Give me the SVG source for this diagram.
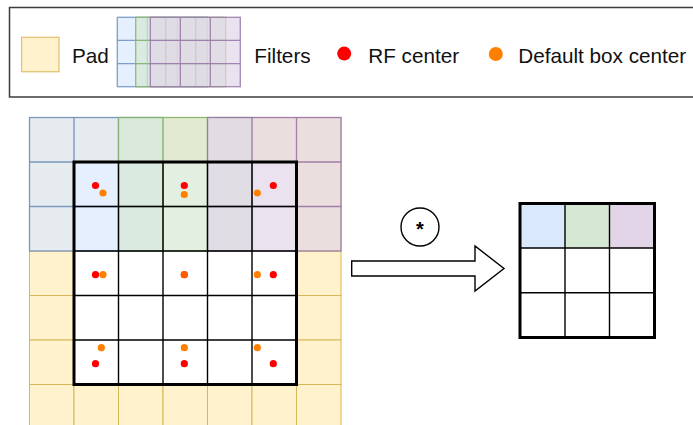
<svg xmlns="http://www.w3.org/2000/svg" width="693" height="425" viewBox="0 0 693 425">
  <style>
    .lbl { font-family: "Liberation Sans", Arial, Helvetica, sans-serif; font-size: 20.7px; fill: #111; }
    .pad { fill: #fff2cc; stroke: #d6b656; stroke-width: 1; }
    .in { fill: #ffffff; stroke: none; }
    .blue { fill: #dae8fc; stroke: #6c8ebf; stroke-width: 1.3; }
    .green { fill: #d5e8d4; stroke: #82b366; stroke-width: 1.3; }
    .purple { fill: #e1d5e7; stroke: #9673a6; stroke-width: 1.3; }
    .flt { fill-opacity: 0.7; stroke-opacity: 0.85; }
    .thin { fill: none; stroke: #000; stroke-width: 1.4; }
    .thick { fill: none; stroke: #000; stroke-width: 3; }
    .rf { fill: #ff0000; }
    .db { fill: #ff8000; }
  </style>
  <defs>
    <!-- one 3x3 filter footprint in the input grid (cell 44.5) -->
    <g id="f3">
      <rect x="0" y="0" width="133.5" height="133.5"/>
      <path d="M44.5 0V133.5M89 0V133.5M0 44.5H133.5M0 89H133.5" fill="none"/>
    </g>
    <!-- one 3x3 filter in the legend (cell 30 x 23.1) -->
    <g id="fl">
      <rect x="0" y="0" width="90" height="69.4"/>
      <path d="M30 0V69.4M60 0V69.4M0 23.1H90M0 46.3H90" fill="none"/>
    </g>
  </defs>

  <rect width="693" height="425" fill="#ffffff"/>

  <!-- legend -->
  <g id="legend">
    <rect x="9.5" y="7.5" width="700" height="89.5" fill="#fff" stroke="#3c3c3c" stroke-width="1.5"/>
    <rect class="pad" x="21.7" y="37.2" width="37.3" height="34.6"/>
    <text class="lbl" x="72" y="62.5">Pad</text>
    <use href="#fl" class="blue flt" x="117.3" y="17.3"/>
    <use href="#fl" class="green flt" x="135.7" y="17.3"/>
    <use href="#fl" class="purple flt" x="150.3" y="17.3"/>
    <text class="lbl" x="254.3" y="62.5">Filters</text>
    <circle class="rf" cx="344.2" cy="53.6" r="7"/>
    <text class="lbl" x="368.3" y="62.5">RF center</text>
    <circle class="db" cx="495.8" cy="54" r="7"/>
    <text class="lbl" x="518.3" y="62.5">Default box center</text>
  </g>

  <!-- padded 7x7 input -->
  <g id="input">
    <g id="padding">
      <rect class="pad" x="29.5" y="117.5" width="44.5" height="44.5"/>
      <rect class="pad" x="74" y="117.5" width="44.5" height="44.5"/>
      <rect class="pad" x="118.5" y="117.5" width="44.5" height="44.5"/>
      <rect class="pad" x="163" y="117.5" width="44.5" height="44.5"/>
      <rect class="pad" x="207.5" y="117.5" width="44.5" height="44.5"/>
      <rect class="pad" x="252" y="117.5" width="44.5" height="44.5"/>
      <rect class="pad" x="296.5" y="117.5" width="44.5" height="44.5"/>
      <rect class="pad" x="29.5" y="162" width="44.5" height="44.5"/>
      <rect class="pad" x="29.5" y="206.5" width="44.5" height="44.5"/>
      <rect class="pad" x="29.5" y="251" width="44.5" height="44.5"/>
      <rect class="pad" x="29.5" y="295.5" width="44.5" height="44.5"/>
      <rect class="pad" x="29.5" y="340" width="44.5" height="44.5"/>
      <rect class="pad" x="296.5" y="162" width="44.5" height="44.5"/>
      <rect class="pad" x="296.5" y="206.5" width="44.5" height="44.5"/>
      <rect class="pad" x="296.5" y="251" width="44.5" height="44.5"/>
      <rect class="pad" x="296.5" y="295.5" width="44.5" height="44.5"/>
      <rect class="pad" x="296.5" y="340" width="44.5" height="44.5"/>
      <rect class="pad" x="29.5" y="384.5" width="44.5" height="44.5"/>
      <rect class="pad" x="74" y="384.5" width="44.5" height="44.5"/>
      <rect class="pad" x="118.5" y="384.5" width="44.5" height="44.5"/>
      <rect class="pad" x="163" y="384.5" width="44.5" height="44.5"/>
      <rect class="pad" x="207.5" y="384.5" width="44.5" height="44.5"/>
      <rect class="pad" x="252" y="384.5" width="44.5" height="44.5"/>
      <rect class="pad" x="296.5" y="384.5" width="44.5" height="44.5"/>
    </g>
    <rect class="in" x="74" y="162" width="222.5" height="222.5"/>

    <!-- three filter positions -->
    <g id="filters">
      <use href="#f3" class="blue flt" x="29.5" y="117.5"/>
      <use href="#f3" class="green flt" x="118.5" y="117.5"/>
      <use href="#f3" class="purple flt" x="207.5" y="117.5"/>
    </g>

    <!-- 5x5 feature map -->
    <path class="thin" d="M118.5 162V384.5M163 162V384.5M207.5 162V384.5M252 162V384.5M74 206.5H296.5M74 251H296.5M74 295.5H296.5M74 340H296.5"/>
    <rect class="thick" x="74" y="162" width="222.5" height="222.5"/>

    <!-- centres -->
    <g id="centers">
      <circle class="rf" cx="95.5" cy="185.5" r="3.6"/>
      <circle class="db" cx="103" cy="193" r="3.6"/>
      <circle class="rf" cx="184.3" cy="185.5" r="3.6"/>
      <circle class="db" cx="184.3" cy="194.5" r="3.6"/>
      <circle class="rf" cx="273.3" cy="185.5" r="3.6"/>
      <circle class="db" cx="257.3" cy="193" r="3.6"/>

      <circle class="rf" cx="95.5" cy="274.7" r="3.6"/>
      <circle class="db" cx="103" cy="274.7" r="3.6"/>
      <circle class="rf" cx="184.3" cy="274.7" r="3.6"/>
      <circle class="db" cx="184.3" cy="274.7" r="3.6" fill-opacity="0.7"/>
      <circle class="db" cx="257.3" cy="274.7" r="3.6"/>
      <circle class="rf" cx="273.3" cy="274.7" r="3.6"/>

      <circle class="db" cx="101.3" cy="347.7" r="3.6"/>
      <circle class="rf" cx="95.5" cy="363.7" r="3.6"/>
      <circle class="db" cx="184.3" cy="347.7" r="3.6"/>
      <circle class="rf" cx="184.3" cy="363.7" r="3.6"/>
      <circle class="db" cx="257.3" cy="347.7" r="3.6"/>
      <circle class="rf" cx="273.3" cy="363.7" r="3.6"/>
    </g>
  </g>

  <!-- convolution operator and arrow -->
  <g id="conv">
    <circle cx="420" cy="227" r="19" fill="#fff" stroke="#000" stroke-width="1.4"/>
    <text x="420" y="236" text-anchor="middle" font-family="Liberation Sans, Arial, sans-serif" font-size="20" font-weight="bold" fill="#000">*</text>
  </g>
  <g id="connectors">
    <polygon points="351.7,261 475,261 475,246 504,268.5 475,291 475,276 351.7,276" fill="#fff" stroke="#000" stroke-width="1.4"/>
  </g>

  <!-- 3x3 output -->
  <g id="output">
    <rect x="520" y="203.5" width="45" height="44.5" fill="#dae8fc"/>
    <rect x="565" y="203.5" width="44.5" height="44.5" fill="#d5e8d4"/>
    <rect x="609.5" y="203.5" width="45" height="44.5" fill="#e1d5e7"/>
    <path class="thin" d="M565 203.5V337.5M609.5 203.5V337.5M520 248H654.5M520 292.7H654.5"/>
    <rect class="thick" x="520" y="203.5" width="134.5" height="134"/>
  </g>
</svg>
